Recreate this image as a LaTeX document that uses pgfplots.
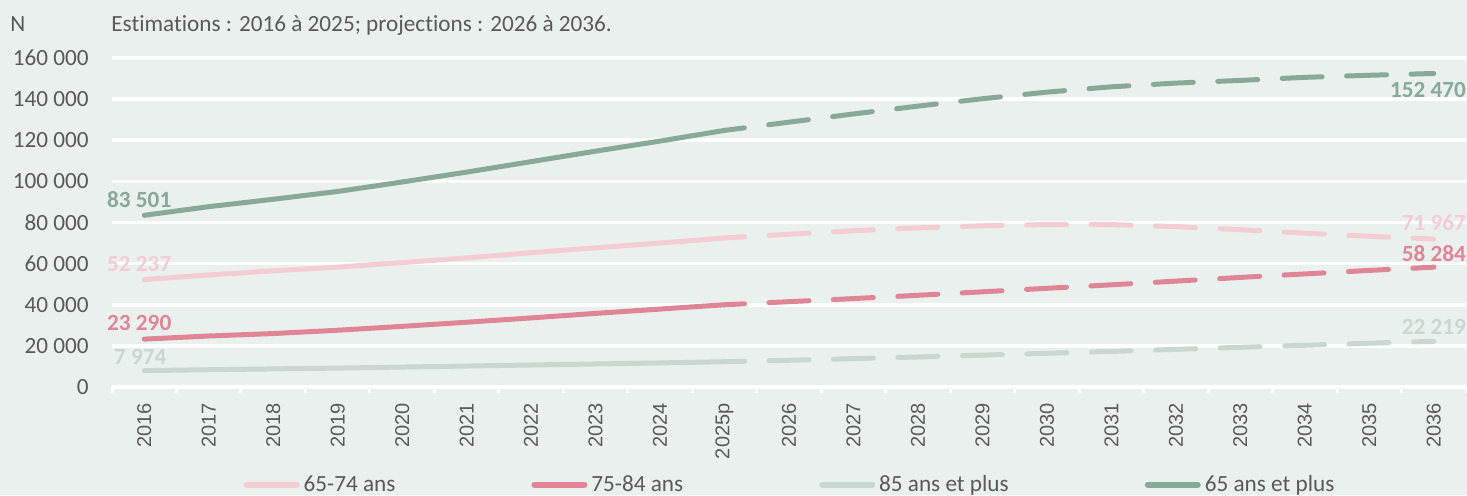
\documentclass[border=0pt]{standalone}
\usepackage{pgfplots}
\pgfplotsset{compat=1.18}
\usepackage{fontspec}
\setmainfont{Carlito}[Ligatures=NoCommon]
\newfontfamily\arialfont{Liberation Sans}
\definecolor{bg}{HTML}{EAF0EE}
\definecolor{cA}{HTML}{F4CCD4}
\definecolor{cB}{HTML}{E08595}
\definecolor{cC}{HTML}{C8D8CF}
\definecolor{cD}{HTML}{88A898}
\definecolor{tgrey}{HTML}{595959}
\pgfplotstableread{
x a b c d
0 52237 23290 7974 83501
1 54500 24800 8400 87700
2 56500 26000 8800 91300
3 58300 27600 9200 95100
4 60500 29500 9700 99700
5 62800 31500 10200 104500
6 65300 33600 10700 109600
7 67700 35800 11200 114700
8 70000 37900 11700 119600
9 72500 40000 12300 124800
}\solid
\pgfplotstableread{
x a b c d
9 72500 40000 12300 124800
10 74300 41500 13000 128800
11 76000 43000 13800 132800
12 77400 44600 14600 136600
13 78400 46300 15500 140200
14 79000 48000 16400 143400
15 79000 49700 17300 146000
16 78000 51500 18300 147800
17 76500 53300 19300 149100
18 74800 55000 20300 150600
19 73300 56700 21300 151600
20 71967 58284 22219 152470
}\dashed
\newcommand{\fs}{\fontsize{11.6}{14}\selectfont}
\begin{document}
\begin{tikzpicture}[x=1pt,y=1pt]
\fill[bg] (0,0) rectangle (733.5,247.5);
\begin{axis}[
  at={(56pt,54pt)}, anchor=south west,
  scale only axis, width=677pt, height=164.5pt,
  xmin=-0.5, xmax=20.5, ymin=0, ymax=160000,
  scaled y ticks=false,
  clip=false,
  axis line style={draw=none},
  ymajorgrids, grid style={white, line width=1.8pt},
  ytick={0,20000,40000,60000,80000,100000,120000,140000,160000},
  yticklabels={0,20 000,40 000,60 000,80 000,100 000,120 000,140 000,160 000},
  xtick={0,...,20},
  xticklabels={2016,2017,2018,2019,2020,2021,2022,2023,2024,2025p,2026,2027,2028,2029,2030,2031,2032,2033,2034,2035,2036},
  minor xtick={-0.5,0.5,...,20.5},
  major tick length=0pt, minor tick length=3pt,
  tick align=outside, xtick pos=bottom, ytick pos=left,
  major tick style={draw=none},
  minor tick style={white, line width=1.5pt},
  xticklabel style={rotate=90, anchor=east, font=\arialfont\fontsize{10}{12}\selectfont, text=tgrey, inner xsep=8pt, inner ysep=0pt},
  yticklabel style={anchor=east, font=\fs, text=tgrey, inner xsep=11.5pt, inner ysep=0pt},
  legend style={at={(axis description cs:0.5015,-0.297)}, anchor=center, draw=none, fill=none, font=\fs, text=tgrey, legend columns=4, /tikz/every even column/.append style={column sep=66pt}},
  legend image code/.code={\draw[#1, line width=3pt, line cap=round] (0pt,0pt) -- (25pt,0pt);},
  every axis plot/.append style={line width=2.5pt, line cap=round, line join=round},
]
\addplot[cA] table[x=x,y=a] {\solid};
\addlegendentry{65-74 ans}
\addplot[cB] table[x=x,y=b] {\solid};
\addlegendentry{75-84 ans}
\addplot[cC] table[x=x,y=c] {\solid};
\addlegendentry{85 ans et plus}
\addplot[cD] table[x=x,y=d] {\solid};
\addlegendentry{65 ans et plus}
\addplot[cA, forget plot, dash pattern=on 20pt off 12.24pt, dash phase=10pt] table[x=x,y=a] {\dashed};
\addplot[cB, forget plot, dash pattern=on 20pt off 12.24pt, dash phase=10pt] table[x=x,y=b] {\dashed};
\addplot[cC, forget plot, dash pattern=on 20pt off 12.24pt, dash phase=10pt] table[x=x,y=c] {\dashed};
\addplot[cD, forget plot, dash pattern=on 20pt off 12.24pt, dash phase=10pt] table[x=x,y=d] {\dashed};
\node[font=\fs\bfseries, text=cD, xshift=-2.5pt, yshift=7.75pt] at (axis cs:0,83501) {83 501};
\node[font=\fs\bfseries, text=cA, xshift=-2.5pt, yshift=8pt] at (axis cs:0,52237) {52 237};
\node[font=\fs\bfseries, text=cB, xshift=-2.5pt, yshift=8pt] at (axis cs:0,23290) {23 290};
\node[font=\fs\bfseries, text=cC, xshift=-2pt, yshift=7pt] at (axis cs:0,7974) {7 974};
\node[font=\fs\bfseries, text=cD, anchor=east, inner xsep=0pt, xshift=16.25pt, yshift=-8pt] at (axis cs:20,152470) {152 470};
\node[font=\fs\bfseries, text=cA, anchor=east, inner xsep=0pt, xshift=16.25pt, yshift=8pt] at (axis cs:20,71967) {71 967};
\node[font=\fs\bfseries, text=cB, anchor=east, inner xsep=0pt, xshift=16.25pt, yshift=7pt] at (axis cs:20,58284) {58 284};
\node[font=\fs\bfseries, text=cC, anchor=east, inner xsep=0pt, xshift=16.25pt, yshift=7pt] at (axis cs:20,22219) {22 219};
\end{axis}
\node[anchor=base west, inner sep=0pt, font=\fs, text=tgrey] at (5,232) {N};
\node[anchor=base west, inner sep=0pt, font=\fs, text=tgrey] at (55.5,232) {Estimations : 2016 à 2025; projections : 2026 à 2036.};
\pgfresetboundingbox
\path (0,0) rectangle (733.5,247.5);
\end{tikzpicture}
\end{document}
